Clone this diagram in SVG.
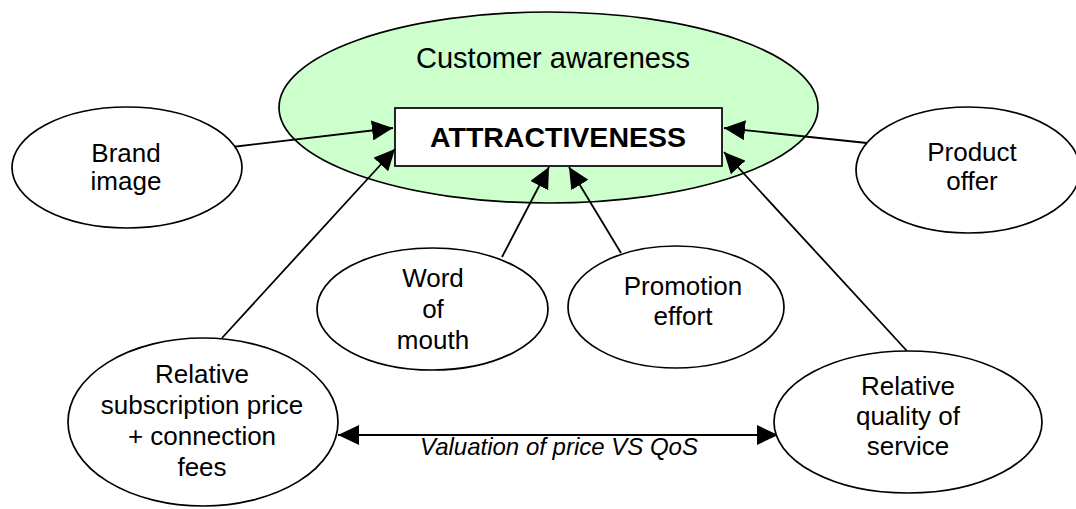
<svg xmlns="http://www.w3.org/2000/svg" width="1076" height="509" viewBox="0 0 1076 509">
  <style>
    .node { fill: #ffffff; stroke: #000000; stroke-width: 1.7; }
    .aware { fill: #ccffcc; stroke: #000000; stroke-width: 1.7; }
    .lbl { font-family: "Liberation Sans", Arial, sans-serif; font-size: 26px; fill: #000000; text-anchor: middle; }
    .edge { fill: none; stroke: #000000; stroke-width: 1.8; }
  </style>
  <defs>
    <marker id="arrow" markerUnits="userSpaceOnUse" markerWidth="21" markerHeight="20" refX="21" refY="10" orient="auto-start-reverse">
      <path d="M0,0 L21,10 L0,20 Z" fill="#000000"/>
    </marker>
  </defs>
  <rect width="1076" height="509" fill="#ffffff"/>

  <!-- outer awareness area -->
  <g id="customer-awareness">
    <ellipse class="aware" cx="548.5" cy="107.5" rx="269.5" ry="95.5"/>
    <text class="lbl" x="553" y="68" style="font-size:29px">Customer awareness</text>
  </g>

  <!-- connectors -->
  <g id="connectors">
    <line class="edge" x1="232" y1="147" x2="393" y2="128" marker-end="url(#arrow)"/>
    <line class="edge" x1="222" y1="338" x2="395" y2="149" marker-end="url(#arrow)"/>
    <line class="edge" x1="502" y1="257" x2="549" y2="167" marker-end="url(#arrow)"/>
    <line class="edge" x1="621" y1="253" x2="569" y2="167" marker-end="url(#arrow)"/>
    <line class="edge" x1="867" y1="143" x2="724" y2="128" marker-end="url(#arrow)"/>
    <line class="edge" x1="907" y1="351" x2="724" y2="152" marker-end="url(#arrow)"/>
    <line class="edge" x1="338" y1="435" x2="778" y2="435" marker-start="url(#arrow)" marker-end="url(#arrow)"/>
    <text class="lbl" x="559" y="455" style="font-size:24px;font-style:italic">Valuation of price VS QoS</text>
  </g>

  <g id="attractiveness">
    <rect class="node" x="395" y="108" width="327" height="58"/>
    <text class="lbl" x="558" y="147" style="font-size:28.5px;font-weight:bold">ATTRACTIVENESS</text>
  </g>

  <g id="brand-image">
    <ellipse class="node" cx="127" cy="167.5" rx="115" ry="60.5"/>
    <text class="lbl" x="126" y="162">Brand</text>
    <text class="lbl" x="126" y="190">image</text>
  </g>

  <g id="product-offer">
    <ellipse class="node" cx="968" cy="170" rx="112" ry="63"/>
    <text class="lbl" x="972" y="161">Product</text>
    <text class="lbl" x="972" y="190">offer</text>
  </g>

  <g id="word-of-mouth">
    <ellipse class="node" cx="432.5" cy="309" rx="115.5" ry="61"/>
    <text class="lbl" x="433" y="287">Word</text>
    <text class="lbl" x="433" y="318">of</text>
    <text class="lbl" x="433" y="349">mouth</text>
  </g>

  <g id="promotion-effort">
    <ellipse class="node" cx="676" cy="307" rx="108" ry="61"/>
    <text class="lbl" x="683" y="295">Promotion</text>
    <text class="lbl" x="683" y="325">effort</text>
  </g>

  <g id="subscription-price">
    <ellipse class="node" cx="203" cy="422" rx="135" ry="84"/>
    <text class="lbl" x="202" y="383">Relative</text>
    <text class="lbl" x="202" y="414">subscription price</text>
    <text class="lbl" x="202" y="445">+ connection</text>
    <text class="lbl" x="202" y="476">fees</text>
  </g>

  <g id="quality-of-service">
    <ellipse class="node" cx="908" cy="422" rx="134" ry="71"/>
    <text class="lbl" x="908" y="395">Relative</text>
    <text class="lbl" x="908" y="425">quality of</text>
    <text class="lbl" x="908" y="455">service</text>
  </g>
</svg>
